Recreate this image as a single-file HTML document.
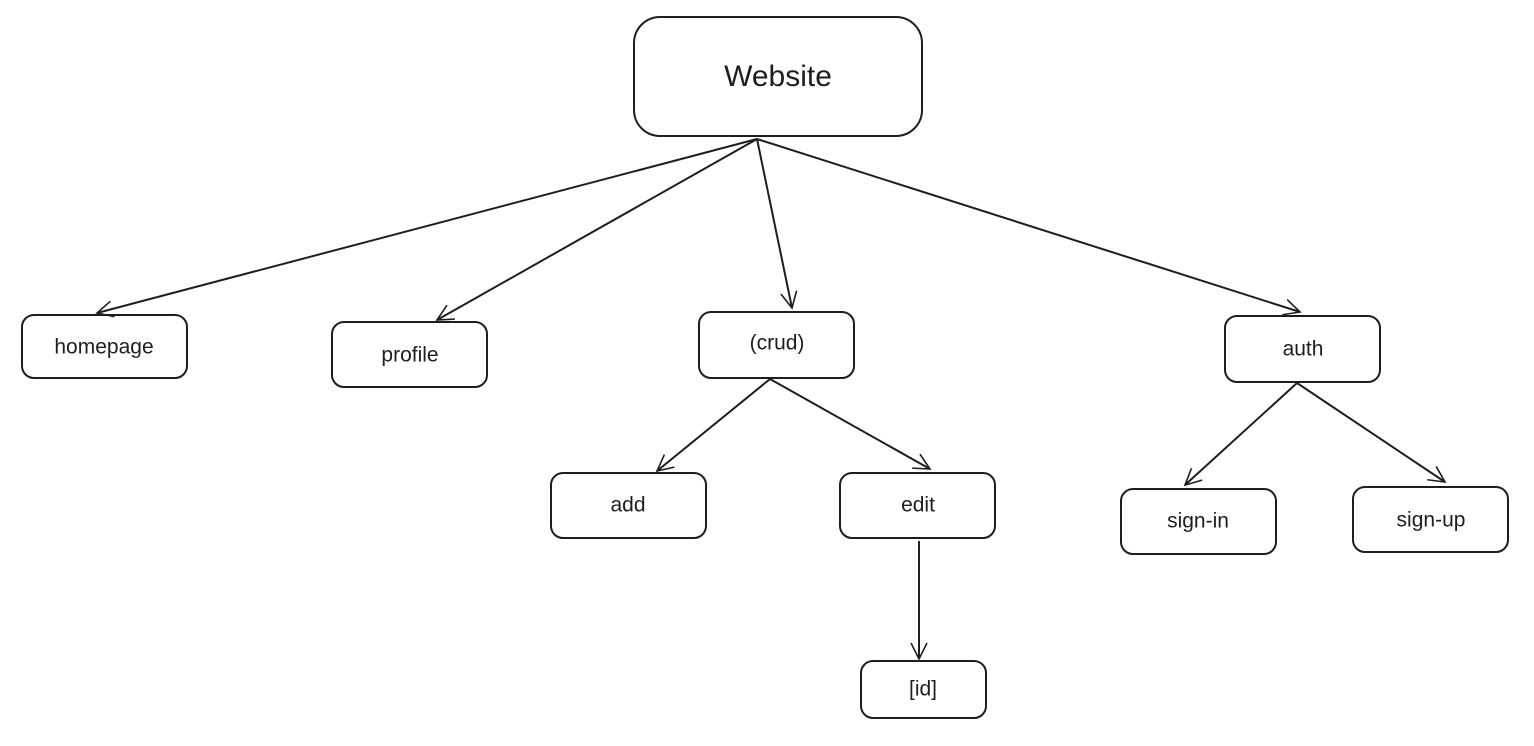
<!DOCTYPE html>
<html><head><style>
html,body{margin:0;padding:0;background:#fff;}
svg{display:block}
text{font-family:"Liberation Sans","DejaVu Sans",sans-serif;fill:#1e1e1e;text-anchor:middle;dominant-baseline:middle}
</style></head><body>
<svg width="1534" height="746" viewBox="0 0 1534 746" xmlns="http://www.w3.org/2000/svg">
<defs>
<marker id="a" viewBox="0 0 20 20" refX="18" refY="10" markerWidth="20" markerHeight="20" markerUnits="userSpaceOnUse" orient="auto">
<path d="M2 2 L18 10 L2 18" fill="none" stroke="#1e1e1e" stroke-width="1.6"/>
</marker>
</defs>
<g fill="none" stroke="#1e1e1e" stroke-width="2">
<rect x="634" y="17" width="288" height="119" rx="26"/>
<rect x="22" y="315" width="165" height="63" rx="12"/>
<rect x="332" y="322" width="155" height="65" rx="12"/>
<rect x="699" y="312" width="155" height="66" rx="12"/>
<rect x="1225" y="316" width="155" height="66" rx="12"/>
<rect x="551" y="473" width="155" height="65" rx="12"/>
<rect x="840" y="473" width="155" height="65" rx="12"/>
<rect x="1121" y="489" width="155" height="65" rx="12"/>
<rect x="1353" y="487" width="155" height="65" rx="12"/>
<rect x="861" y="661" width="125" height="57" rx="12"/>
</g>
<g fill="none" stroke="#1e1e1e" stroke-width="2" marker-end="url(#a)">
<line x1="757" y1="139" x2="97" y2="313"/>
<line x1="757" y1="139" x2="437" y2="320"/>
<line x1="757" y1="139" x2="792" y2="308"/>
<line x1="757" y1="139" x2="1300" y2="312"/>
<line x1="770" y1="379" x2="657" y2="471"/>
<line x1="770" y1="379" x2="930" y2="469"/>
<line x1="1297" y1="383" x2="1185" y2="485"/>
<line x1="1297" y1="383" x2="1445" y2="482"/>
<line x1="919" y1="541" x2="919" y2="659"/>
</g>
<text x="778" y="78" font-size="30">Website</text>
<text x="104" y="348" font-size="21">homepage</text>
<text x="410" y="356" font-size="21">profile</text>
<text x="777" y="344" font-size="21">(crud)</text>
<text x="1303" y="350" font-size="21">auth</text>
<text x="628" y="506" font-size="21">add</text>
<text x="918" y="506" font-size="21">edit</text>
<text x="1198" y="522" font-size="21">sign-in</text>
<text x="1431" y="521" font-size="21">sign-up</text>
<text x="923" y="690" font-size="21">[id]</text>
</svg>
</body></html>
